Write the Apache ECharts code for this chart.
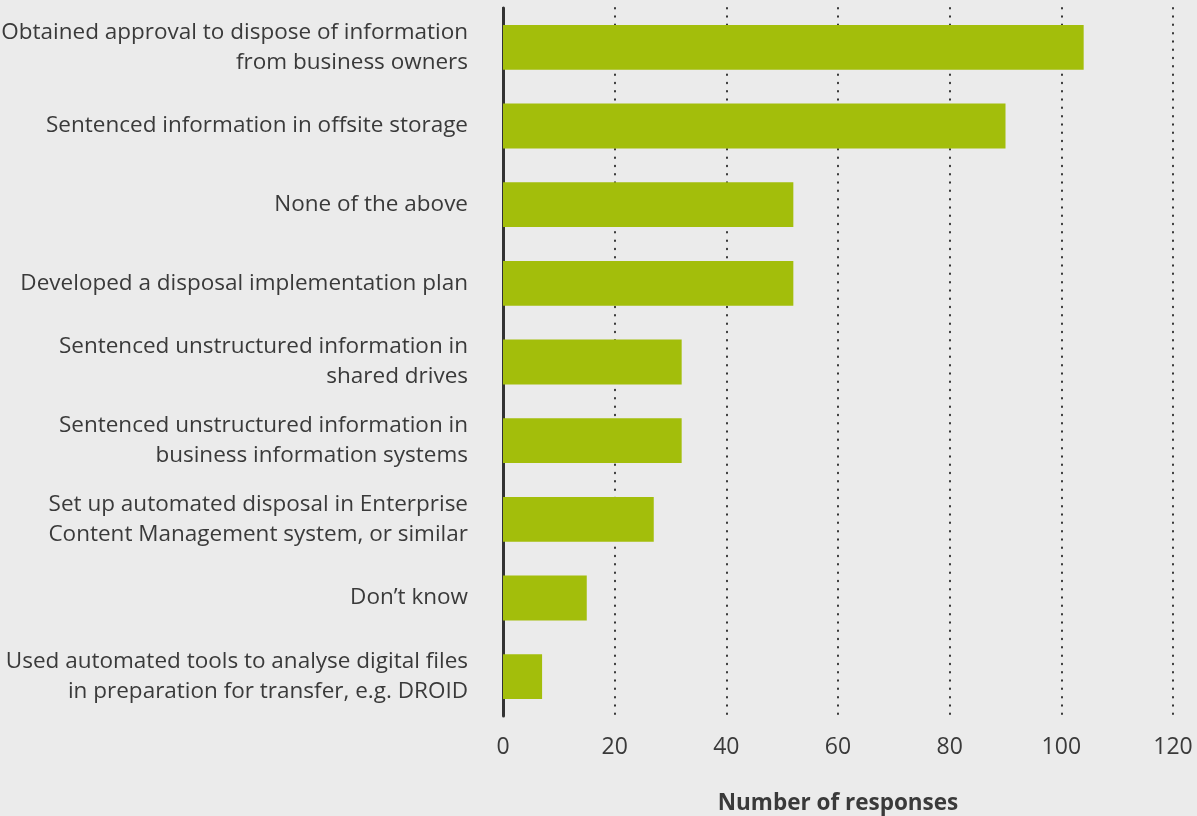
<!DOCTYPE html>
<html>
<head>
<meta charset="utf-8">
<script src="https://cdn.jsdelivr.net/npm/echarts@6/dist/echarts.min.js"></script>
<style>
  html, body { margin: 0; padding: 0; background: #ebebeb; }
  #chart { width: 1197px; height: 816px; }
</style>
</head>
<body>
<div id="chart"></div>
<script>
// Disposal activities, top to bottom
const categories = [
  'Obtained approval to dispose of information\nfrom business owners',
  'Sentenced information in offsite storage',
  'None of the above',
  'Developed a disposal implementation plan',
  'Sentenced unstructured information in\nshared drives',
  'Sentenced unstructured information in\nbusiness information systems',
  'Set up automated disposal in Enterprise\nContent Management system, or similar',
  'Don\u2019t know',
  'Used automated tools to analyse digital files\nin preparation for transfer, e.g. DROID'
];
const responses = [104, 90, 52, 52, 32, 32, 27, 15, 7];
const xTicks = [0, 20, 40, 60, 80, 100, 120];
const xAxisTitle = 'Number of responses';

const FONT = '"Open Sans", "Noto Sans", sans-serif';
const TEXT = '#3a3a3a';

const chart = echarts.init(document.getElementById('chart'), null, { renderer: 'canvas' });
chart.setOption({
  backgroundColor: '#ebebeb',
  animation: false,
  grid: {
    left: 503, right: 24, top: 8, bottom: 100,
    containLabel: false,
    outerBoundsMode: 'none'
  },
  xAxis: {
    type: 'value',
    min: xTicks[0],
    max: xTicks[xTicks.length - 1],
    interval: xTicks[1] - xTicks[0],
    axisLine: { show: false },
    axisTick: { show: false },
    axisLabel: { margin: 20, color: TEXT, fontFamily: FONT, fontSize: 23 },
    splitLine: {
      show: true,
      lineStyle: { color: '#333', width: 2, type: [0.5, 7.8], cap: 'round' }
    },
    name: xAxisTitle,
    nameLocation: 'middle',
    nameGap: 76,
    nameTextStyle: { color: TEXT, fontFamily: FONT, fontSize: 22.5, fontWeight: 'bold', verticalAlign: 'top' }
  },
  yAxis: {
    type: 'category',
    data: categories,
    inverse: true,
    axisLine: { show: true, lineStyle: { color: '#333', width: 3 } },
    axisTick: { show: false },
    axisLabel: {
      margin: 35,
      color: TEXT,
      fontFamily: FONT,
      fontSize: 22.5,
      lineHeight: 30,
      align: 'right'
    },
    splitLine: { show: false }
  },
  series: [{
    type: 'bar',
    data: responses,
    barWidth: '57%',
    itemStyle: { color: '#a3be0b' },
    z: 3
  }]
});
</script>
</body>
</html>
